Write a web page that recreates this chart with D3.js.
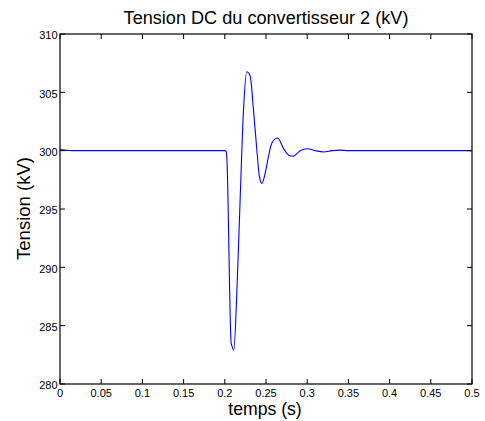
<!DOCTYPE html>
<html><head><meta charset="utf-8">
<script src="https://cdn.jsdelivr.net/npm/d3@7"></script>
<style>body{margin:0;background:#fff}svg{display:block}text{font-family:"Liberation Sans",Arial,sans-serif}</style>
</head><body><svg id="c" width="485" height="421"></svg>
<script>
const times = [0, 0.005, 0.01, 0.02, 0.2, 0.2016, 0.2024, 0.2077, 0.2085, 0.2109, 0.2146, 0.2186, 0.2227, 0.2267, 0.2308, 0.2348, 0.2389, 0.242, 0.245, 0.249, 0.253, 0.257, 0.264, 0.2712, 0.2773, 0.2826, 0.2915, 0.3004, 0.3097, 0.32, 0.33, 0.34, 0.35, 0.5];
const volts = [300.1, 300.05, 300.02, 300, 300, 299.95, 299.5, 283.5, 283.3, 282.9, 287.8, 295.8, 303.5, 306.77, 306.4, 303.5, 300.06, 297.8, 297.2, 298.06, 299.5, 300.63, 301.09, 300.2, 299.63, 299.52, 300, 300.17, 300, 299.89, 300, 300.05, 300, 300];
const xTicks = [0, 0.05, 0.1, 0.15, 0.2, 0.25, 0.3, 0.35, 0.4, 0.45, 0.5];
const yTicks = [280, 285, 290, 295, 300, 305, 310];
const title = "Tension DC du convertisseur 2 (kV)";
const xLabel = "temps (s)";
const yLabel = "Tension (kV)";

const svg = d3.select("#c");
const L = 60, R = 472, T = 34, B = 384;
const x = d3.scaleLinear().domain([0, 0.5]).range([L, R]);
const y = d3.scaleLinear().domain([280, 310]).range([B, T]);
const data = times.map((t, i) => [t, volts[i]]);

const line = d3.line().x(d => x(d[0])).y(d => y(d[1])).curve(d3.curveMonotoneX);
svg.append("path").datum(data).attr("d", line).attr("fill", "none")
  .attr("stroke", "#0000ff").attr("stroke-width", 1.1);

const tl = 5;
const g = svg.append("g").attr("stroke", "#000").attr("stroke-width", 1);
xTicks.forEach(t => {
  g.append("line").attr("x1", x(t)).attr("x2", x(t)).attr("y1", B).attr("y2", B - tl);
  g.append("line").attr("x1", x(t)).attr("x2", x(t)).attr("y1", T).attr("y2", T + tl);
});
yTicks.forEach(v => {
  g.append("line").attr("x1", L).attr("x2", L + tl).attr("y1", y(v)).attr("y2", y(v));
  g.append("line").attr("x1", R).attr("x2", R - tl).attr("y1", y(v)).attr("y2", y(v));
});
svg.append("rect").attr("x", L).attr("y", T).attr("width", R - L).attr("height", B - T)
  .attr("fill", "none").attr("stroke", "#000").attr("stroke-width", 1.2);

svg.append("g").selectAll("text").data(xTicks).join("text")
  .attr("x", d => x(d)).attr("y", B + 13).attr("text-anchor", "middle")
  .attr("font-size", 11).text(d => d3.format("")(d));
svg.append("g").selectAll("text").data(yTicks).join("text")
  .attr("x", L - 2.5).attr("y", d => y(d) + 5.2).attr("text-anchor", "end")
  .attr("font-size", 11).text(d => d);

function fit(sel, target) {
  const w = sel.node().getComputedTextLength();
  const fs = +sel.attr("font-size");
  sel.attr("font-size", (fs * target / w).toFixed(2));
}
const tt = svg.append("text").attr("x", 266).attr("y", 24).attr("text-anchor", "middle")
  .attr("font-size", 16).text(title);
fit(tt, 285);
const xl = svg.append("text").attr("x", 265).attr("y", 414.5).attr("text-anchor", "middle")
  .attr("font-size", 16).text(xLabel);
fit(xl, 73.5);
const yl = svg.append("text").attr("transform", `translate(30,208.5) rotate(-90)`)
  .attr("text-anchor", "middle").attr("font-size", 16).text(yLabel);
fit(yl, 103);
</script></body></html>
